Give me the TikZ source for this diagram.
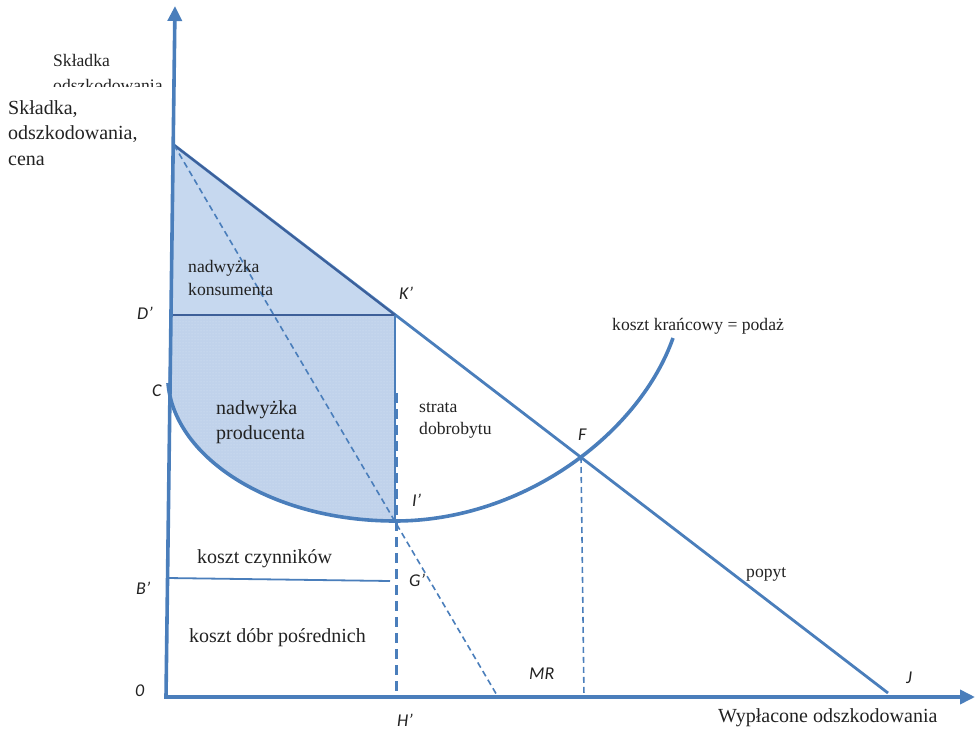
\documentclass[tikz,border=0pt]{standalone}
\usepackage{fontspec}
\setmainfont{Liberation Serif}
\newfontfamily\labelfont{Carlito}
\usetikzlibrary{arrows.meta,patterns}

\definecolor{axisblue}{HTML}{4A7EBB}
\definecolor{edgeblue}{HTML}{3D5F99}
\definecolor{areablue}{HTML}{C6D8EF}
\definecolor{prodblue}{HTML}{C0D2EB}
\definecolor{dotwhite}{HTML}{D8E4F4}
\definecolor{textgray}{HTML}{222222}

\begin{document}
\begin{tikzpicture}[x=1pt,y=-1pt,
  txt/.style={anchor=base west,inner sep=0pt,text=textgray,font=\fontsize{20}{24}\selectfont},
  smalltxt/.style={anchor=base west,inner sep=0pt,text=textgray,font=\fontsize{17.6}{21}\selectfont},
  ptlabel/.style={anchor=base west,inner sep=0pt,text=textgray,font=\labelfont\itshape\fontsize{18}{21}\selectfont},
  axisline/.style={draw=axisblue,line width=3.6pt},
  mainline/.style={draw=axisblue,line width=2.8pt},
  thinline/.style={draw=axisblue,line width=1.8pt},
  guide/.style={draw=axisblue,line width=1.6pt,dash pattern=on 6pt off 4pt},
  heavyguide/.style={draw=axisblue,line width=3pt,dash pattern=on 10pt off 6pt},
  tip/.style={-{Triangle[width=14pt,length=15pt]}}
]
\useasboundingbox (0,0) rectangle (975,733);

% key points of the diagram
\coordinate (O)    at (166,697);
\coordinate (Ytop) at (175,6);
\coordinate (Xend) at (975,697);
\coordinate (Dtop) at (174,145);
\coordinate (D)    at (171,315);
\coordinate (K)    at (395,315);
\coordinate (C)    at (168,383);
\coordinate (I)    at (395,521);
\coordinate (Itop) at (396,393);
\coordinate (H)    at (396,697);
\coordinate (F)    at (581,457);
\coordinate (Fbot) at (584,697);
\coordinate (S)    at (673,338);
\coordinate (J)    at (888,693);
\coordinate (MRx)  at (498,697);
\coordinate (B)    at (167,578);
\coordinate (G)    at (390,581);

% consumer surplus triangle
\fill[areablue] (Dtop) -- (K) -- (D) -- cycle;

% producer surplus area (dotted fill)
\def\prodarea{(D) -- (K) -- (I) .. controls (272,521) and (174,458) .. (C) -- cycle}
\fill[prodblue] \prodarea;
\fill[pattern=dots,pattern color=dotwhite] \prodarea;

% demand line
\draw[mainline] (Dtop) -- (J);
\draw[edgeblue,line width=1.8pt] (Dtop) -- (K);
\draw[edgeblue,line width=2.2pt] (D) -- (K);

% vertical at K'
\draw[thinline] (K) -- (I);
\draw[heavyguide] (Itop) -- (H);

% marginal revenue and F guide
\draw[guide] (Dtop) -- (MRx);
\draw[guide] (F) -- (Fbot);

% factor cost line
\draw[thinline] (B) -- (G);

% marginal cost curve
\draw[draw=axisblue,line width=3.6pt]
  (C) .. controls (174,458) and (272,521) .. (I)
      .. controls (525,521) and (640,432) .. (S);

% axes
\draw[axisline,tip] (O) -- (Ytop);
\draw[axisline,tip] (164,697) -- (Xend);

% axis titles
\begin{scope}
  \clip (40,40) rectangle (170,87);
  \node[smalltxt] (ttlA) at (53,67) {Składka};
  \node[smalltxt] (ttlB) at (53,92) {odszkodowania};
\end{scope}
\node[txt] (yl1) at (8,115) {Składka,};
\node[txt] (yl2) at (8,140) {odszkodowania,};
\node[txt] (yl3) at (8,165) {cena};
\node[txt] (xl) at (718,722) {Wypłacone odszkodowania};

% area and curve texts
\node[smalltxt] (cs1) at (188,272) {nadwyżka};
\node[smalltxt] (cs2) at (188,295) {konsumenta};
\node[txt] (ps1) at (216,414) {nadwyżka};
\node[txt] (ps2) at (216,439) {producenta};
\node[smalltxt] (dw1) at (419,412) {strata};
\node[smalltxt] (dw2) at (419,434) {dobrobytu};
\node[txt] (fc) at (197,563) {koszt czynników};
\node[txt] (ic) at (189,642) {koszt dóbr pośrednich};
\node[smalltxt] (mc) at (612,330) {koszt krańcowy = podaż};
\node[smalltxt] (dm) at (746,577) {popyt};

% point labels
\node[ptlabel] (lK) at (399,299) {K’};
\node[ptlabel] (lD) at (137,319) {D’};
\node[ptlabel] (lC) at (152,396) {C};
\node[ptlabel] (lF) at (578,440) {F};
\node[ptlabel] (lI) at (412,506) {I’};
\node[ptlabel] (lG) at (409,586) {G’};
\node[ptlabel] (lB) at (136,594) {B’};
\node[ptlabel] (lO) at (135,696) {0};
\node[ptlabel] (lMR) at (529,679) {MR};
\node[ptlabel] (lJ) at (906,683) {J};
\node[ptlabel] (lH) at (397,726) {H’};
\end{tikzpicture}
\end{document}
